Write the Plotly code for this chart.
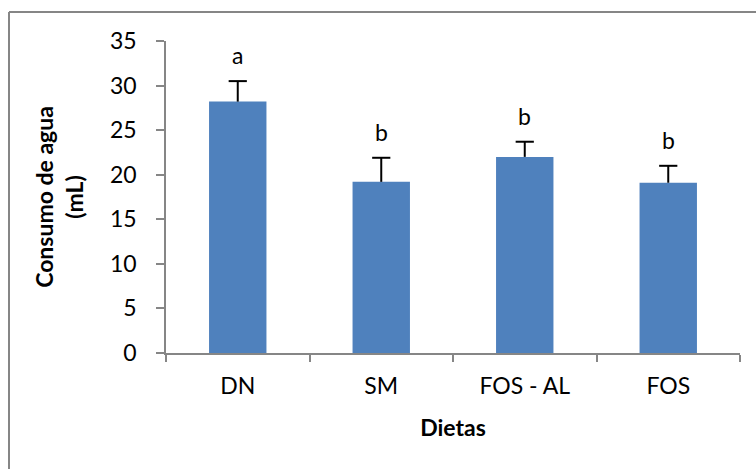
import plotly.graph_objects as go

# Water intake per diet group
dietas = ["DN", "SM", "FOS - AL", "FOS"]
consumo = [28.2, 19.2, 22.0, 19.1]
error = [2.3, 2.7, 1.7, 1.9]
letras = ["a", "b", "b", "b"]

y_ticks = [0, 5, 10, 15, 20, 25, 30, 35]

FONT = "Lato"
FS = 23
AXIS_GRAY = "#868686"

W, H = 756, 469
ML, MR, MT, MB = 166, 16, 41, 116
pw, ph = W - ML - MR, H - MT - MB

fig = go.Figure()
fig.add_trace(go.Bar(
    x=dietas,
    y=consumo,
    marker=dict(color="#4F81BD", line=dict(width=0)),
    error_y=dict(
        type="data",
        symmetric=False,
        array=error,
        arrayminus=[0] * len(error),
        color="black",
        thickness=2,
        width=0,
    ),
    showlegend=False,
))

# caps only at the upper end of each error bar
tops = [v + e for v, e in zip(consumo, error)]
fig.add_trace(go.Scatter(
    x=dietas, y=tops, mode="markers",
    marker=dict(symbol="line-ew-open", size=13, color="black",
                line=dict(color="black", width=2)),
    showlegend=False, hoverinfo="skip",
))

# significance letters above each error bar
for d, top, t in zip(dietas, tops, letras):
    fig.add_annotation(
        x=d, y=top, text=t, showarrow=False,
        yanchor="bottom", yshift=10,
        font=dict(family=FONT, size=FS, color="black"),
    )

# outer frame (top and left edges)
def px_x(p):
    return (p - ML) / pw

def px_y(p):
    return 1 - (p - MT) / ph

frame = dict(color=AXIS_GRAY, width=2)
fig.add_shape(type="line", xref="paper", yref="paper",
              x0=px_x(9), x1=px_x(W + 20), y0=px_y(12), y1=px_y(12), line=frame)
fig.add_shape(type="line", xref="paper", yref="paper",
              x0=px_x(9), x1=px_x(9), y0=px_y(12), y1=px_y(H + 20), line=frame)

fig.update_layout(
    width=W, height=H,
    margin=dict(l=ML, r=MR, t=MT, b=MB),
    paper_bgcolor="white",
    plot_bgcolor="white",
    bargap=0.6,
    font=dict(family=FONT, size=FS, color="black"),
    xaxis=dict(
        type="category",
        range=[-0.5, 3.5],
        showline=True, linecolor=AXIS_GRAY, linewidth=1.5,
        ticks="outside", tickson="boundaries", ticklen=7, tickcolor=AXIS_GRAY,
        tickwidth=1.5,
        ticklabelstandoff=12,
        showgrid=False, zeroline=False,
        tickfont=dict(family=FONT, size=FS, color="black"),
        title=dict(text="<b>Dietas</b>", standoff=22,
                   font=dict(family=FONT, size=FS, color="black")),
    ),
    yaxis=dict(
        range=[0, 35],
        tickvals=y_ticks,
        showline=True, linecolor=AXIS_GRAY, linewidth=1.5,
        ticks="outside", ticklen=8, tickcolor=AXIS_GRAY, tickwidth=1.5,
        ticklabelstandoff=15,
        showgrid=False, zeroline=False,
        tickfont=dict(family=FONT, size=FS, color="black"),
        title=dict(text="<b>Consumo de agua<br>(mL)</b>", standoff=20,
                   font=dict(family=FONT, size=FS, color="black")),
    ),
)

fig.write_html("out.html")
